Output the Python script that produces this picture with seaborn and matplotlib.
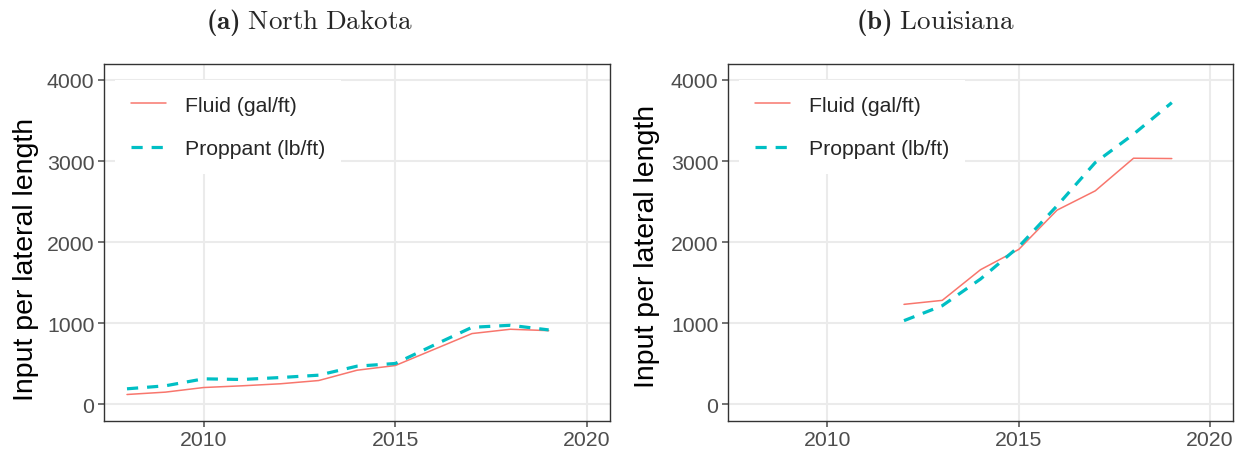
import matplotlib
matplotlib.use("Agg")
import matplotlib.pyplot as plt
import seaborn as sns
import pandas as pd

# ---- data ----
nd_years = [2008, 2009, 2010, 2011, 2012, 2013, 2014, 2015, 2016, 2017, 2018, 2019]
nd_fluid = [123, 152, 209, 230, 255, 295, 422, 480, 677, 874, 927, 910]
nd_proppant = [193, 230, 316, 308, 332, 361, 472, 505, 730, 951, 976, 919]

la_years = [2012, 2013, 2014, 2015, 2016, 2017, 2018, 2019]
la_fluid = [1234, 1283, 1661, 1911, 2395, 2633, 3035, 3031]
la_proppant = [1033, 1217, 1546, 1944, 2448, 2982, 3331, 3720]

series_names = ["Fluid (gal/ft)", "Proppant (lb/ft)"]
titles = [("(a)", "North Dakota"), ("(b)", "Louisiana")]
x_ticks = [2010, 2015, 2020]
y_ticks = [0, 1000, 2000, 3000, 4000]
ylabel = "Input per lateral length"


def long_df(years, fluid, prop):
    return pd.DataFrame({
        "year": list(years) * 2,
        "value": list(fluid) + list(prop),
        "series": [series_names[0]] * len(years) + [series_names[1]] * len(years),
    })


sns.set_theme(style="white")
plt.rcParams["font.family"] = ["Liberation Sans", "DejaVu Sans"]
plt.rcParams["mathtext.fontset"] = "custom"
plt.rcParams["mathtext.rm"] = "cmr10"
plt.rcParams["mathtext.bf"] = "cmb10"
plt.rcParams["mathtext.it"] = "cmr10"

fig = plt.figure(figsize=(12.36, 4.52), dpi=100)
ax_a = fig.add_axes([104 / 1236, 1 - 421.7 / 452, 506 / 1236, 357 / 452])
ax_b = fig.add_axes([728 / 1236, 1 - 421.7 / 452, 505 / 1236, 357 / 452])

palette = {series_names[0]: "#F8766D", series_names[1]: "#00BFC4"}
dashes = {series_names[0]: "", series_names[1]: (3.5, 2.8)}

datasets = [long_df(nd_years, nd_fluid, nd_proppant), long_df(la_years, la_fluid, la_proppant)]
title_x = [310 / 1236, 935 / 1236]
ylabel_pos = [(-0.128, 0.455), (-0.134, 0.49)]

for ax, df, (tag, name), tx, (lx, ly) in zip([ax_a, ax_b], datasets, titles, title_x, ylabel_pos):
    ax.grid(True, color="#EBEBEB", linewidth=1.5, zorder=0)
    ax.set_axisbelow(True)
    sns.lineplot(data=df, x="year", y="value", hue="series", style="series",
                 palette=palette, dashes=dashes, ax=ax, legend=True, zorder=3)
    lines = ax.get_lines()
    lines[0].set_linewidth(1.1)
    lines[1].set_linewidth(2.3)
    ax.set_xlim(2007.4, 2020.6)
    ax.set_ylim(-200, 4200)
    ax.set_xticks(x_ticks)
    ax.set_yticks(y_ticks)
    ax.tick_params(axis="both", which="major", labelsize=15.3, colors="#4D4D4D",
                   length=4, width=1.1, direction="out", left=True, bottom=True, pad=3)
    for sp in ax.spines.values():
        sp.set_color("#333333")
        sp.set_linewidth(1.0)
    ax.set_xlabel("")
    ax.set_ylabel(ylabel, fontsize=20.5, color="black")
    ax.yaxis.set_label_coords(lx, ly)

    handles, labels = ax.get_legend_handles_labels()
    handles[0].set_linewidth(1.1)
    handles[1].set_linewidth(2.3)
    leg = ax.legend(handles, labels, loc="upper left", bbox_to_anchor=(0.0, 0.985),
                    frameon=True, fontsize=15.3, handlelength=1.65, handletextpad=0.9,
                    labelspacing=1.15, borderpad=0.75, fancybox=False, title=None)
    leg.get_frame().set_edgecolor("none")
    leg.get_frame().set_facecolor("white")
    leg.get_frame().set_alpha(1.0)
    leg.set_zorder(5)

    fig.text(tx, 0.951, r"$\mathbf{" + tag + r"}\ \mathrm{" + name.replace(" ", r"\ ") + r"}$",
             ha="center", va="center", fontsize=19.5)

fig.savefig("out.png", dpi=100)
